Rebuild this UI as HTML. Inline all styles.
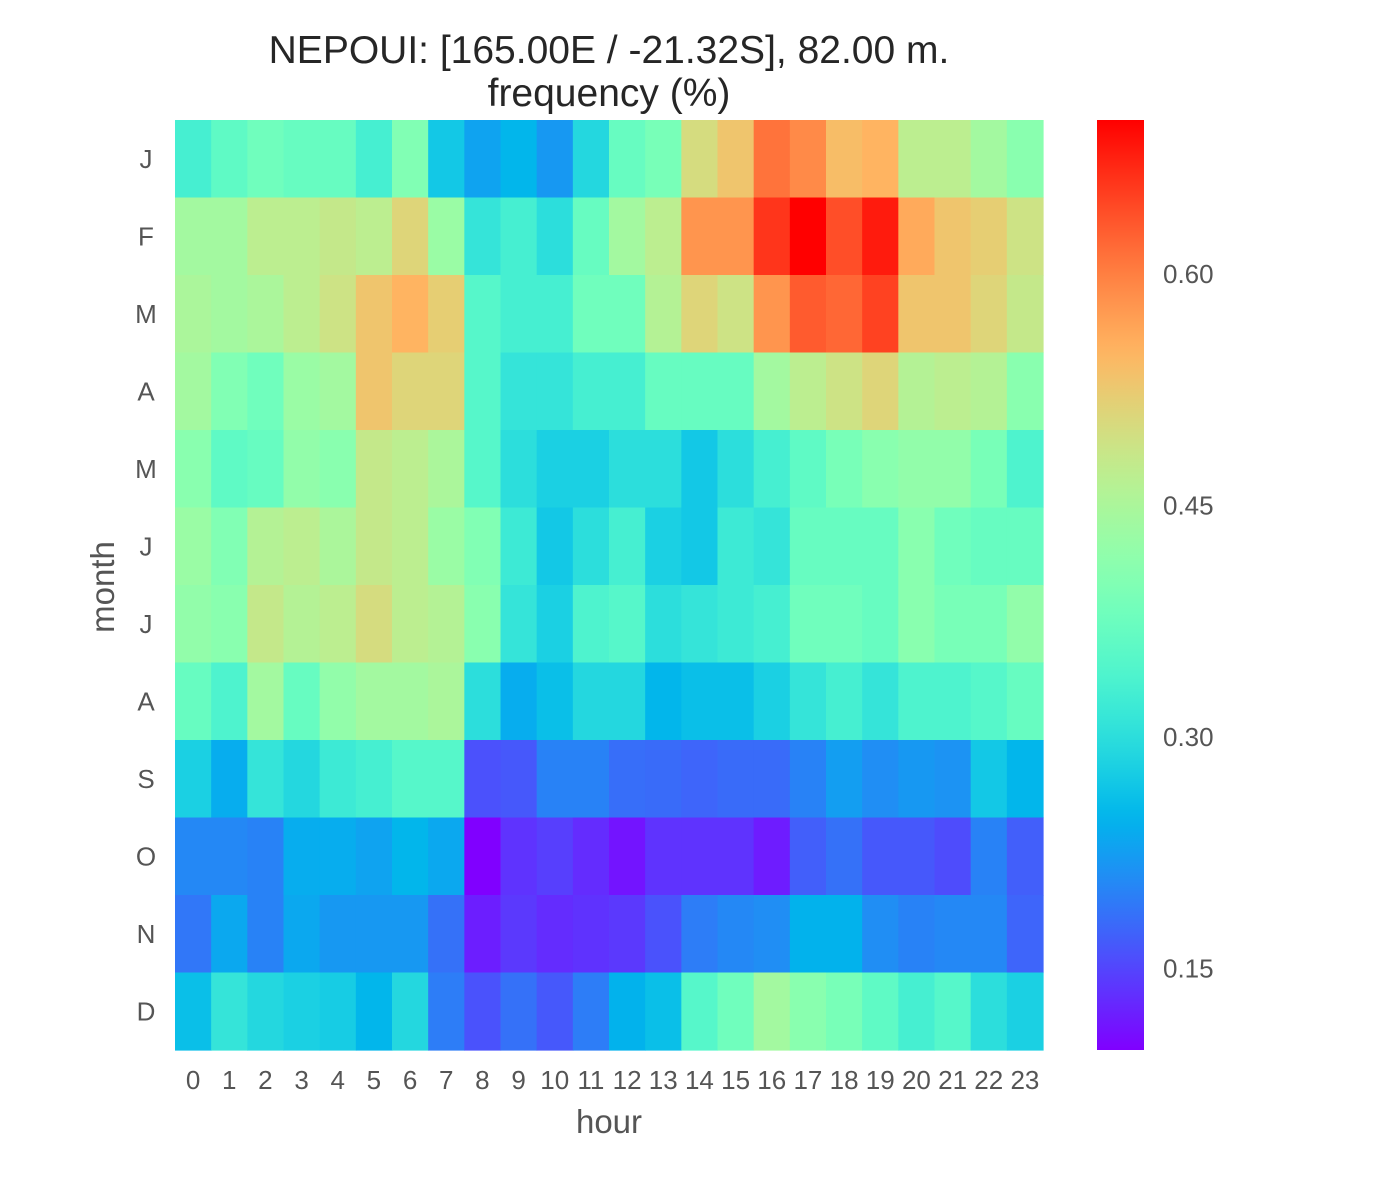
<!DOCTYPE html>
<html><head><meta charset="utf-8"><style>
body{margin:0;background:#fff;}
svg{display:block;font-family:"Liberation Sans",Arial,sans-serif;}
</style></head><body>
<svg id="chart" width="1400" height="1200" xmlns="http://www.w3.org/2000/svg">
<defs><linearGradient id="cmap" x1="0" y1="1" x2="0" y2="0"></linearGradient></defs>
<text x="609" y="63" font-size="39" text-anchor="middle" fill="#262626">NEPOUI: [165.00E / -21.32S], 82.00 m.</text>
<text x="609" y="106" font-size="39" text-anchor="middle" fill="#262626">frequency (%)</text>
<g id="cells"></g>
<g id="xt"></g>
<g id="yt"></g>
<text x="609" y="1133" font-size="33" text-anchor="middle" fill="#555">hour</text>
<text x="0" y="0" font-size="33" text-anchor="middle" fill="#555" transform="translate(114,587) rotate(-90)">month</text>
<rect x="1097" y="120" width="47" height="930" fill="url(#cmap)"/>
<g id="ct"></g>
</svg>
<script>
const hours = ["0","1","2","3","4","5","6","7","8","9","10","11","12","13","14","15","16","17","18","19","20","21","22","23"];
const months = ["J","F","M","A","M","J","J","A","S","O","N","D"];
const cbarTicks = [0.15,0.30,0.45,0.60];
const vmin = 0.097, vmax = 0.70;
const rJan = [.33,.36,.38,.37,.37,.33,.40,.27,.23,.25,.22,.29,.37,.39,.50,.53,.61,.59,.54,.55,.47,.47,.44,.41];
const rFeb = [.44,.44,.47,.47,.48,.47,.51,.43,.31,.33,.30,.37,.44,.47,.58,.58,.66,.70,.64,.68,.56,.53,.52,.49];
const rMar = [.45,.44,.45,.47,.49,.53,.55,.52,.35,.33,.33,.38,.38,.46,.51,.49,.58,.63,.62,.65,.53,.53,.51,.48];
const rApr = [.44,.40,.38,.43,.44,.53,.51,.51,.35,.31,.31,.33,.33,.37,.37,.37,.44,.47,.49,.51,.46,.47,.46,.41];
const rMay = [.41,.36,.37,.42,.41,.48,.47,.45,.35,.30,.28,.28,.30,.30,.27,.30,.33,.36,.39,.41,.42,.42,.39,.34];
const rJun = [.43,.40,.46,.47,.45,.48,.47,.43,.40,.32,.27,.30,.33,.28,.27,.32,.31,.37,.37,.37,.41,.38,.37,.37];
const rJul = [.42,.41,.48,.46,.47,.50,.47,.46,.41,.31,.28,.34,.35,.30,.31,.32,.33,.38,.38,.37,.41,.39,.39,.42];
const rAug = [.37,.34,.44,.37,.42,.44,.44,.45,.30,.24,.26,.29,.29,.25,.26,.26,.28,.31,.33,.31,.34,.34,.35,.37];
const rSep = [.28,.24,.31,.29,.32,.33,.35,.35,.159,.165,.20,.20,.183,.18,.175,.18,.18,.20,.225,.21,.22,.215,.27,.25];
const rOct = [.205,.205,.20,.24,.24,.23,.25,.235,.097,.136,.145,.13,.112,.136,.136,.136,.118,.17,.185,.165,.165,.155,.20,.17];
const rNov = [.19,.235,.20,.235,.22,.22,.22,.185,.12,.14,.13,.135,.14,.16,.195,.205,.21,.245,.245,.21,.20,.205,.205,.175];
const rDec = [.26,.31,.29,.28,.275,.25,.29,.195,.16,.185,.165,.195,.245,.26,.35,.38,.44,.41,.39,.36,.33,.35,.30,.28];
const rows = [rJan,rFeb,rMar,rApr,rMay,rJun,rJul,rAug,rSep,rOct,rNov,rDec];

const NS="http://www.w3.org/2000/svg";
const X0=175,X1=1043,Y0=120,Y1=1050;
const cw=(X1-X0)/hours.length, ch=(Y1-Y0)/months.length;
function xPos(i){return X0+i*cw;}
function yPos(j){return Y0+j*ch;}
function cbY(v){return Y1-(v-vmin)/(vmax-vmin)*(Y1-Y0);}
function rainbow(t){
  t=Math.max(0,Math.min(1,t));
  const c=x=>Math.round(Math.max(0,Math.min(1,x))*255);
  return `rgb(${c(Math.abs(2*t-0.5))},${c(Math.sin(Math.PI*t))},${c(Math.cos(Math.PI*t/2))})`;
}
function color(v){return rainbow((v-vmin)/(vmax-vmin));}
const cells=document.getElementById('cells');
rows.forEach((row,j)=>row.forEach((v,i)=>{
  const r=document.createElementNS(NS,'rect');
  
  
  r.setAttribute('x',xPos(i));r.setAttribute('y',yPos(j));
  r.setAttribute('width',cw+0.6);r.setAttribute('height',ch+0.6);
  r.setAttribute('fill',color(v));
  cells.appendChild(r);
}));
const xt=document.getElementById('xt');
hours.forEach((h,i)=>{
  const t=document.createElementNS(NS,'text');
  
  
  t.setAttribute('x',xPos(i)+cw/2);t.setAttribute('y',1089);
  t.setAttribute('font-size','26');t.setAttribute('text-anchor','middle');t.setAttribute('fill','#555');
  t.textContent=h;xt.appendChild(t);
});
const yt=document.getElementById('yt');
months.forEach((m,j)=>{
  const t=document.createElementNS(NS,'text');
  
  
  t.setAttribute('x',146);t.setAttribute('y',yPos(j)+ch/2+9);
  t.setAttribute('font-size','26');t.setAttribute('text-anchor','middle');t.setAttribute('fill','#555');
  t.textContent=m;yt.appendChild(t);
});
const grad=document.getElementById('cmap');
for(let k=0;k<=50;k++){
  const s=document.createElementNS(NS,'stop');
  s.setAttribute('offset',(k/50));s.setAttribute('stop-color',rainbow(k/50));
  grad.appendChild(s);
}
const ct=document.getElementById('ct');
cbarTicks.forEach(v=>{
  const t=document.createElementNS(NS,'text');
  
  
  t.setAttribute('x',1163);t.setAttribute('y',cbY(v)+9);
  t.setAttribute('font-size','26');t.setAttribute('fill','#555');
  t.textContent=v.toFixed(2);ct.appendChild(t);
});
</script>
</body></html>
